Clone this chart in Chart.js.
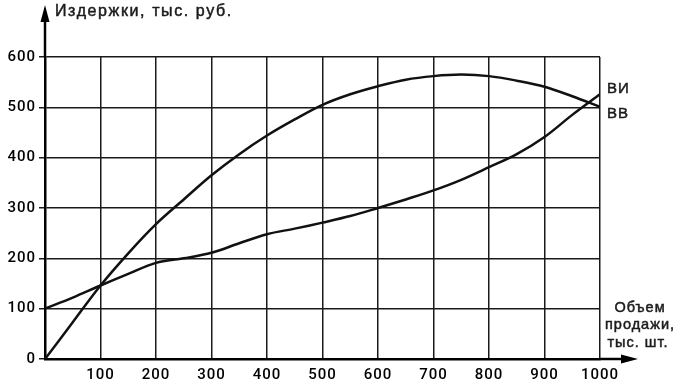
<!DOCTYPE html>
<html>
<head>
<meta charset="utf-8">
<script src="https://cdn.jsdelivr.net/npm/chart.js@4.4.1/dist/chart.umd.min.js"></script>
<style>
html, body { margin: 0; padding: 0; background: #fff; }
#wrap { width: 679px; height: 389px; }
</style>
</head>
<body>
<div id="wrap"><canvas id="canvas" width="679" height="389"></canvas></div>
<script>
// sales volume, thousand units
var volume = [0, 50, 100, 150, 200, 250, 300, 350, 400, 450, 500,
              550, 600, 650, 700, 750, 800, 850, 900, 950, 1000];
// ВВ curve
var seriesBB = [0, 73, 146, 210, 268, 317, 365, 407, 444, 476, 505,
                526, 542, 555, 562, 565, 562, 553, 541, 522, 501];
// ВИ curve
var seriesBI = [100, 122, 146, 169, 191, 200, 211, 230, 248, 259, 271,
                284, 300, 317, 335, 356, 381, 407, 441, 485, 526];

var xTickValues = [0, 100, 200, 300, 400, 500, 600, 700, 800, 900, 1000];
var yTickValues = [0, 100, 200, 300, 400, 500, 600];

var yTitle = 'Издержки, тыс. руб.';
var xTitle = ['Объем', 'продажи,', 'тыс. шт.'];
var labelBI = 'ВИ';
var labelBB = 'ВВ';

var FONT = "'Liberation Sans', Arial, sans-serif";
var INK = '#1c1c1c';

function toPoints(xs, ys) {
    return xs.map(function (v, i) { return { x: v, y: ys[i] }; });
}

var axisExtras = {
    id: 'axisExtras',
    beforeDraw: function (chart) {
        chart.ctx.letterSpacing = '1px';
    },
    afterDraw: function (chart) {
        var c = chart.ctx;
        var xs = chart.scales.x, ys = chart.scales.y;
        var x0 = xs.getPixelForValue(0), y0 = ys.getPixelForValue(0);
        var xEnd = xs.getPixelForValue(1000), yTop = ys.getPixelForValue(600);

        c.save();
        c.strokeStyle = '#000';
        c.fillStyle = '#000';
        c.lineWidth = 2.5;
        // y axis arrow
        c.beginPath(); c.moveTo(x0, yTop); c.lineTo(x0, 18); c.stroke();
        c.beginPath(); c.moveTo(x0, 5); c.lineTo(x0 - 4.5, 22); c.lineTo(x0 + 4.5, 22); c.closePath(); c.fill();
        // x axis arrow
        c.beginPath(); c.moveTo(xEnd, y0); c.lineTo(624, y0); c.stroke();
        c.beginPath(); c.moveTo(638, y0); c.lineTo(621, y0 - 4.5); c.lineTo(621, y0 + 4.5); c.closePath(); c.fill();

        c.fillStyle = INK;
        c.strokeStyle = INK;
        c.lineWidth = 0.5;
        c.textBaseline = 'alphabetic';

        c.font = '16px ' + FONT;
        c.letterSpacing = '1.6px';
        c.textAlign = 'left';
        c.fillText(yTitle, x0 + 10, 16);
        c.strokeText(yTitle, x0 + 10, 16);

        c.font = '14.5px ' + FONT;
        c.letterSpacing = '1px';
        c.textAlign = 'center';
        var rows = [[xTitle[0], 640, 312], [xTitle[1], 640, 329], [xTitle[2], 638, 347]];
        rows.forEach(function (r) {
            c.fillText(r[0], r[1], r[2]);
            c.strokeText(r[0], r[1], r[2]);
        });

        c.font = '15px ' + FONT;
        c.textAlign = 'left';
        var lastBI = ys.getPixelForValue(seriesBI[seriesBI.length - 1]);
        var lastBB = ys.getPixelForValue(seriesBB[seriesBB.length - 1]);
        c.fillText(labelBI, xEnd + 7, lastBI - 1);
        c.strokeText(labelBI, xEnd + 7, lastBI - 1);
        c.fillText(labelBB, xEnd + 7, lastBB + 11);
        c.strokeText(labelBB, xEnd + 7, lastBB + 11);
        c.restore();
    }
};

var ctx = document.getElementById('canvas').getContext('2d');
var myChart = new Chart(ctx, {
    type: 'line',
    data: {
        datasets: [{
            label: labelBB,
            data: toPoints(volume, seriesBB),
            borderColor: '#111',
            borderWidth: 2.5,
            pointRadius: 0,
            fill: false,
            tension: 0.35
        },
        {
            label: labelBI,
            data: toPoints(volume, seriesBI),
            borderColor: '#111',
            borderWidth: 2.5,
            pointRadius: 0,
            fill: false,
            tension: 0.35
        }]
    },
    options: {
        responsive: false,
        animation: false,
        devicePixelRatio: 1,
        layout: { padding: { top: 57, right: 79, left: 0, bottom: 0 } },
        plugins: {
            legend: { display: false },
            tooltip: { enabled: false }
        },
        scales: {
            x: {
                type: 'linear',
                min: 0,
                max: 1000,
                afterBuildTicks: function (scale) {
                    scale.ticks = xTickValues.map(function (v) { return { value: v }; });
                },
                afterFit: function (scale) { scale.height = 30; },
                ticks: {
                    color: '#000',
                    padding: 7,
                    maxRotation: 0,
                    font: { family: "Roboto, 'Liberation Sans', sans-serif", size: 15, weight: '500' },
                    callback: function (v) { return v === 0 ? '' : v; }
                },
                grid: { color: '#1a1a1a', lineWidth: 1.5, drawTicks: false },
                border: { display: true, color: '#000', width: 2.5 }
            },
            y: {
                min: 0,
                max: 600,
                afterBuildTicks: function (scale) {
                    scale.ticks = yTickValues.map(function (v) { return { value: v }; });
                },
                afterFit: function (scale) { scale.width = 45; },
                ticks: {
                    color: '#000',
                    padding: 3,
                    font: { family: "Roboto, 'Liberation Sans', sans-serif", size: 15, weight: '500' }
                },
                grid: { color: '#1a1a1a', lineWidth: 1.5, drawTicks: true, tickLength: 6 },
                border: { display: true, color: '#000', width: 2.5 }
            }
        }
    },
    plugins: [axisExtras]
});
</script>
</body>
</html>
